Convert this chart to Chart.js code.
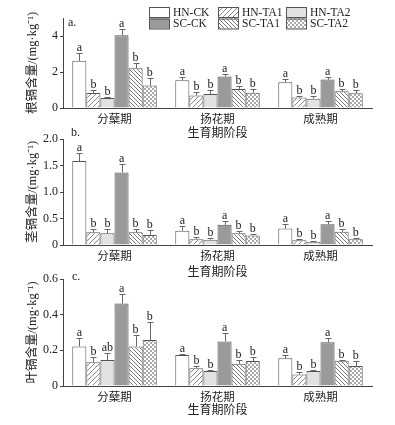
<!DOCTYPE html>
<html>
<head>
<meta charset="utf-8">
<script src="https://cdn.jsdelivr.net/npm/chart.js@4.4.1/dist/chart.umd.min.js"></script>
<style>
html, body { margin: 0; padding: 0; background: #fff; }
#wrap { position: relative; width: 395px; height: 425px; overflow: hidden; }
canvas { position: absolute; left: 0; }
</style>
</head>
<body>
<div id="wrap">
  <canvas id="rootChart" width="395" height="142" style="top:0px"></canvas>
  <canvas id="stemChart" width="395" height="153" style="top:128px"></canvas>
  <canvas id="leafChart" width="395" height="151" style="top:268px"></canvas>
</div>
<script>
'use strict';

// growth stages and treatments
const stages = ['分蘖期', '扬花期', '成熟期'];
const treatments = ['HN-CK', 'HN-TA1', 'HN-TA2', 'SC-CK', 'SC-TA1', 'SC-TA2'];

// root Cd (rows = treatments, cols = stages)
const rootMean = [
    [2.62, 1.54, 1.43],
    [0.84, 0.69, 0.58],
    [0.56, 0.78, 0.52],
    [4.04, 1.75, 1.58],
    [2.21, 1.06, 0.93],
    [1.25, 0.85, 0.82]
];
const rootErr = [
    [0.45, 0.19, 0.17],
    [0.18, 0.18, 0.08],
    [0.07, 0.20, 0.12],
    [0.33, 0.16, 0.17],
    [0.30, 0.18, 0.13],
    [0.42, 0.21, 0.20]
];
const rootLetters = [
    ['a', 'a', 'a'], ['b', 'b', 'b'], ['b', 'b', 'b'],
    ['a', 'a', 'a'], ['b', 'b', 'b'], ['b', 'b', 'b']
];

// stem Cd
const stemMean = [
    [1.585, 0.27, 0.31],
    [0.24, 0.11, 0.09],
    [0.22, 0.10, 0.06],
    [1.37, 0.38, 0.39],
    [0.24, 0.22, 0.25],
    [0.19, 0.18, 0.11]
];
const stemErr = [
    [0.16, 0.09, 0.08],
    [0.06, 0.04, 0.03],
    [0.08, 0.04, 0.02],
    [0.15, 0.07, 0.07],
    [0.07, 0.04, 0.05],
    [0.09, 0.03, 0.03]
];
const stemLetters = [
    ['a', 'a', 'a'], ['b', 'b', 'b'], ['b', 'b', 'b'],
    ['a', 'a', 'a'], ['b', 'b', 'b'], ['b', 'b', 'b']
];

// leaf Cd
const leafMean = [
    [0.222, 0.174, 0.155],
    [0.133, 0.099, 0.065],
    [0.146, 0.084, 0.084],
    [0.462, 0.250, 0.245],
    [0.222, 0.125, 0.142],
    [0.258, 0.140, 0.112]
];
const leafErr = [
    [0.047, 0.008, 0.017],
    [0.030, 0.015, 0.013],
    [0.037, 0.006, 0.008],
    [0.052, 0.046, 0.022],
    [0.064, 0.020, 0.005],
    [0.100, 0.023, 0.030]
];
const leafLetters = [
    ['a', 'a', 'a'], ['b', 'b', 'b'], ['ab', 'b', 'b'],
    ['a', 'a', 'a'], ['b', 'b', 'b'], ['b', 'b', 'b']
];

const rootTicks = [0, 2, 4];
const stemTicks = [0, 0.5, 1.0, 1.5, 2.0];
const leafTicks = [0, 0.2, 0.4, 0.6];

const SERIF = "'Liberation Serif', 'Noto Sans CJK SC', serif";
const CJK = "'Noto Sans CJK SC', 'Liberation Serif', sans-serif";
const EDGE = '#555';

Chart.defaults.font.family = SERIF;
Chart.defaults.color = '#222';

// fill patterns
function hatch(forward, step, color) {
    const c = document.createElement('canvas');
    c.width = c.height = step;
    const g = c.getContext('2d');
    g.fillStyle = '#fff';
    g.fillRect(0, 0, step, step);
    g.strokeStyle = color;
    g.lineWidth = 1;
    g.beginPath();
    if (forward) {
        g.moveTo(-1, step + 1); g.lineTo(step + 1, -1);
        g.moveTo(-1, 1); g.lineTo(1, -1);
        g.moveTo(step - 1, step + 1); g.lineTo(step + 1, step - 1);
    } else {
        g.moveTo(-1, -1); g.lineTo(step + 1, step + 1);
        g.moveTo(step - 1, -1); g.lineTo(step + 1, 1);
        g.moveTo(-1, step - 1); g.lineTo(1, step + 1);
    }
    g.stroke();
    return g.createPattern(c, 'repeat');
}

function crossHatch(color) {
    const c = document.createElement('canvas');
    c.width = c.height = 4;
    const g = c.getContext('2d');
    g.fillStyle = '#fff';
    g.fillRect(0, 0, 4, 4);
    g.fillStyle = color;
    g.fillRect(0, 0, 2, 2);
    g.fillRect(2, 2, 2, 2);
    return g.createPattern(c, 'repeat');
}

const fills = [
    '#ffffff',
    hatch(true, 5, '#888'),
    '#e2e2e2',
    '#9a9a9a',
    hatch(false, 4, '#777'),
    crossHatch('#aaa')
];

// error bars (upward only) + significance letters
const errorPlugin = {
    id: 'errLetters',
    afterDatasetsDraw(chart) {
        const ctx = chart.ctx;
        const y = chart.scales.y;
        chart.data.datasets.forEach((ds, i) => {
            const meta = chart.getDatasetMeta(i);
            meta.data.forEach((bar, j) => {
                const top = Math.round(y.getPixelForValue(ds.data[j] + ds.errors[j])) + 0.5;
                const x = Math.round(bar.x) + 0.5;
                ctx.save();
                ctx.strokeStyle = '#666';
                ctx.lineWidth = 1;
                ctx.beginPath();
                ctx.moveTo(x, bar.y);
                ctx.lineTo(x, top);
                ctx.moveTo(x - 3, top);
                ctx.lineTo(x + 3, top);
                ctx.stroke();
                ctx.fillStyle = '#222';
                ctx.font = '12px ' + SERIF;
                ctx.textAlign = 'center';
                ctx.textBaseline = 'alphabetic';
                ctx.fillText(ds.letters[j], bar.x, top - 3);
                ctx.restore();
            });
        });
    }
};

// a. / b. / c.
const tagPlugin = {
    id: 'panelTag',
    afterDraw(chart, args, opts) {
        const ctx = chart.ctx;
        const area = chart.chartArea;
        ctx.save();
        ctx.fillStyle = '#222';
        ctx.font = '12px ' + SERIF;
        ctx.textAlign = 'left';
        ctx.textBaseline = 'middle';
        ctx.fillText(opts.text, area.left + opts.dx, area.top + opts.dy);
        ctx.restore();
    }
};

// 3 x 2 legend in the top panel
const legendPlugin = {
    id: 'gridLegend',
    afterDraw(chart, args, opts) {
        if (!opts.show) return;
        const ctx = chart.ctx;
        const cols = [149, 218, 286];
        const rows = [7, 18.5];
        ctx.save();
        ctx.font = '11.5px ' + SERIF;
        ctx.textBaseline = 'middle';
        ctx.textAlign = 'left';
        chart.data.datasets.forEach((ds, i) => {
            const x = cols[i % 3];
            const yy = rows[Math.floor(i / 3)];
            ctx.fillStyle = ds.backgroundColor;
            ctx.fillRect(x, yy, 20, 10);
            ctx.strokeStyle = EDGE;
            ctx.lineWidth = 1;
            ctx.strokeRect(x + 0.5, yy + 0.5, 20, 10);
            ctx.fillStyle = '#222';
            ctx.fillText(ds.label, x + 24, yy + 5.5);
        });
        ctx.restore();
    }
};

function makeChart(id, means, errs, letters, opt) {
    const datasets = treatments.map((name, i) => ({
        label: name,
        data: means[i],
        errors: errs[i],
        letters: letters[i],
        backgroundColor: fills[i],
        borderColor: EDGE,
        borderWidth: 1,
        categoryPercentage: 0.82,
        barPercentage: 1.0
    }));

    return new Chart(document.getElementById(id), {
        type: 'bar',
        data: { labels: stages, datasets: datasets },
        options: {
            responsive: false,
            animation: false,
            events: [],
            layout: { padding: { top: opt.padTop, right: 23, bottom: 0, left: 0 } },
            plugins: {
                legend: { display: false },
                tooltip: { enabled: false },
                panelTag: opt.tag,
                gridLegend: { show: !!opt.legend }
            },
            scales: {
                x: {
                    grid: { display: false, drawTicks: false },
                    border: { display: true, color: '#444' },
                    ticks: { padding: 4, font: { family: CJK, size: 11.5 }, color: '#222' },
                    title: {
                        display: true,
                        text: '生育期阶段',
                        font: { family: CJK, size: 12 },
                        color: '#222',
                        padding: { top: 0, bottom: 2 }
                    },
                    afterFit: (s) => { s.height = opt.xHeight; }
                },
                y: {
                    min: 0,
                    max: opt.max,
                    grid: { display: true, drawOnChartArea: false, drawTicks: true, tickLength: 3, color: '#444' },
                    border: { display: true, color: '#444' },
                    ticks: {
                        padding: 2,
                        font: { size: 12 },
                        color: '#222',
                        callback: (v) => v === 0 ? '0' : v.toFixed(opt.dec)
                    },
                    afterBuildTicks: (s) => { s.ticks = opt.ticks.map(v => ({ value: v })); },
                    title: {
                        display: true,
                        text: opt.title,
                        font: { size: 12.5 },
                        color: '#222',
                        padding: { top: 25, bottom: 0 }
                    },
                    afterFit: (s) => { s.width = 63; }
                }
            }
        },
        plugins: [errorPlugin, tagPlugin, legendPlugin]
    });
}

makeChart('rootChart', rootMean, rootErr, rootLetters, {
    padTop: 18, xHeight: 34, max: 5, ticks: rootTicks, dec: 0,
    title: '根镉含量/(mg·kg⁻¹)', tag: { text: 'a.', dx: 5, dy: 4.5 }, legend: true
});
makeChart('stemChart', stemMean, stemErr, stemLetters, {
    padTop: 11, xHeight: 36, max: 2, ticks: stemTicks, dec: 1,
    title: '茎镉含量/(mg·kg⁻¹)', tag: { text: 'b.', dx: 8, dy: -6 }
});
makeChart('leafChart', leafMean, leafErr, leafLetters, {
    padTop: 11, xHeight: 33, max: 0.6, ticks: leafTicks, dec: 1,
    title: '叶镉含量/(mg·kg⁻¹)', tag: { text: 'c.', dx: 9, dy: -2 }
});
</script>
</body>
</html>
